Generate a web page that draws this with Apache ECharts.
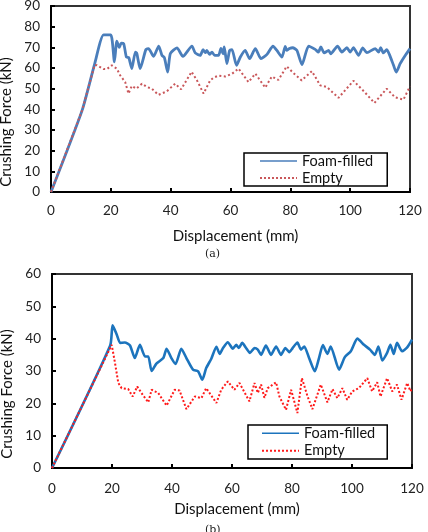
<!DOCTYPE html>
<html>
<head>
<meta charset="utf-8">
<script src="https://cdn.jsdelivr.net/npm/echarts@6/dist/echarts.min.js"></script>
<style>
html,body{margin:0;padding:0;background:#fff;}
#chart{width:428px;height:532px;}
</style>
</head>
<body>
<div id="chart"></div>
<script>
// ---------- Data ----------
const xTicks = [0, 20, 40, 60, 80, 100, 120];
const seriesNames = ['Foam-filled', 'Empty'];
const captions = ['(a)', '(b)'];

// (a) Foam-filled
const dispA_foam = [0, 10.4, 14.6, 17.6, 20.0, 21.2, 22, 22.8, 23.5, 24.3, 25.2, 26, 27, 28.2, 28.7, 29.8, 31.7, 32.6, 34.3, 36, 37.1, 37.9, 39, 39.9, 42.1, 44.1, 47.1, 48.2, 49.9, 50.8, 51.6, 52.1, 53, 53.8, 54.7, 56, 56.8, 57.5, 57.9, 58.8, 59.7, 60.5, 62, 63.3, 64.9, 66.4, 68.3, 70.2, 72.2, 74.2, 75.5, 77.2, 78.3, 78.8, 79.7, 80.8, 82.2, 83.9, 86.1, 88.3, 89.4, 90.2, 91.3, 92.8, 93.5, 95.8, 97.2, 98.9, 100, 101.1, 102.8, 104.2, 105.6, 108.4, 109.5, 110.2, 111.1, 112.2, 113.1, 114.5, 115.4, 116.7, 118.4, 120];
const forceA_foam = [0, 39.5, 62, 76, 76, 63, 73, 70, 72, 71.8, 65.3, 65, 59.7, 67.7, 67, 59.7, 68.9, 69.4, 65.6, 70.6, 66.1, 65, 58, 67, 69.7, 65.6, 70.6, 67.3, 66.1, 68.9, 67.4, 68.5, 66.6, 67.7, 66.1, 66.1, 69.5, 66.9, 70.2, 62.1, 68.5, 68.9, 61.3, 65.3, 68.5, 64.5, 69.4, 64.5, 66.6, 70.6, 68.5, 65.3, 70.5, 68.5, 69.4, 69.8, 68.5, 61.6, 70.6, 69, 67.7, 70.2, 67.3, 68.5, 66.9, 70.6, 67.7, 69.8, 67.7, 69.8, 66.1, 69.7, 67.4, 69.4, 67.7, 69.8, 67.3, 68.9, 66.6, 61.3, 58, 62.1, 66.1, 69.4];

// (a) Empty
const dispA_empty = [0, 10.4, 14.6, 15.4, 17.6, 18.7, 20.3, 22, 23.1, 24.8, 25.9, 27, 28.5, 30.4, 32.1, 33.7, 35.9, 38.7, 41.5, 43.5, 47, 48.8, 51, 53.2, 54.3, 56, 58.2, 60.5, 62.7, 66, 68.3, 71.6, 73.8, 76, 78.8, 81, 83.8, 87.2, 90, 92.2, 96.1, 101.1, 104.6, 108.1, 112.2, 115, 117.8, 120];
const forceA_empty = [0, 39.5, 61.5, 61.3, 59.5, 59.5, 61.3, 59.7, 56.5, 53.2, 47.6, 51.3, 50, 52.4, 50.8, 50, 47, 48.7, 52.4, 49.7, 58.2, 54, 47.6, 54, 55.3, 56.3, 55.9, 57.2, 59.7, 53.2, 57.3, 50.5, 55.9, 54.2, 60.8, 57.6, 54, 58.5, 51.6, 50.8, 45.6, 53.8, 48.7, 43.1, 50, 45.8, 44.7, 51.1];

// (b) Foam-filled
const dispB_foam = [0, 19.4, 20.2, 21.6, 22.7, 24.3, 26, 27.6, 29.3, 31, 32.1, 33.2, 34.8, 37.1, 38.2, 39.8, 41.2, 43.1, 44.8, 47, 48.7, 50.1, 51.4, 53.1, 54.8, 55.9, 57, 58.6, 60.3, 61.4, 62.3, 63.4, 64.7, 66, 67.5, 68.6, 69.7, 71.3, 73, 74.7, 76.3, 77.8, 79.1, 80.2, 81.8, 83, 84.1, 85.7, 87.6, 89, 90.3, 91.8, 92.9, 95.7, 97.6, 99.6, 101.8, 104, 106, 107.6, 108.8, 110.1, 111.7, 112.8, 113.9, 115, 116.7, 118.4, 120];
const forceB_foam = [0, 37.9, 44.1, 41.2, 38.7, 38.8, 37.9, 34.0, 38.1, 34.5, 34.5, 30.0, 32.3, 34, 36.9, 34, 32.2, 36.9, 34, 30.4, 29.9, 27.3, 30.9, 33.8, 37.5, 35.3, 37.1, 38.9, 36.9, 38.1, 37.1, 38.7, 37.1, 35.6, 37.1, 36.6, 35, 37.9, 35, 37.6, 35, 37.1, 35.8, 37.1, 38.8, 36.6, 37.6, 34, 29.9, 34, 38, 35.3, 37.6, 30.4, 34.3, 36.1, 40, 38.1, 36.6, 35, 37.6, 33.3, 35.6, 38.1, 35.3, 38.7, 36.1, 37.3, 39.7];

// (b) Empty
const dispB_empty = [0, 19.9, 21, 22.1, 23.2, 25.4, 26.9, 28.4, 30.2, 32.1, 33.2, 35.4, 38.2, 40.9, 42.5, 44.8, 47.6, 49.8, 51.4, 54.8, 56.4, 58.6, 60.8, 62.5, 65.8, 67.5, 68.6, 69.7, 70.8, 71.9, 74.7, 75.8, 78, 79.7, 81.8, 83.3, 85.2, 86.8, 89.6, 91.8, 93.5, 95.1, 96.8, 98.4, 100.1, 102.3, 105.1, 106.7, 108.4, 109.5, 111.7, 113.4, 115, 116.5, 118.4, 119.5, 120];
const forceB_empty = [0, 38.1, 32.5, 26.3, 24.7, 24.4, 22.1, 25.2, 22.7, 20.3, 24.2, 23.2, 19.3, 24.2, 24, 18.2, 22.1, 21.6, 24.7, 20.1, 24.2, 26.8, 24.2, 26.3, 20.6, 26.3, 23.2, 25.8, 21.7, 24.7, 26.5, 22.1, 18, 24.2, 17, 27.8, 22.1, 18.2, 25.8, 20.3, 24.4, 21.6, 24.7, 21.1, 23.7, 24.7, 27.8, 23.7, 26.5, 22.1, 27.8, 23.7, 25.8, 21.1, 26.3, 23.7, 24.5];

// ---------- Build ----------
const zip = (xs, ys) => xs.map((x, i) => [x, ys[i]]);
const FONT = 'Lato';
const colA_blue = '#4a7ebb', colA_red = '#c9575a';
const colB_blue = '#1c74bd', colB_red = '#ff1a1a';

function xAxisCfg(gridIndex, labelMargin, nameGap) {
  return {
    type: 'value', gridIndex, min: 0, max: 120, interval: 20,
    name: 'Displacement (mm)', nameLocation: 'middle', nameGap,
    nameTextStyle: { fontFamily: FONT, fontSize: 15, color: '#111', padding: [0, 0, 0, 10] },
    axisLine: { show: true, onZero: false, lineStyle: { color: '#000', width: 2 } },
    axisTick: { show: true, inside: true, length: 4, lineStyle: { color: '#000', width: 2 } },
    axisLabel: { fontFamily: FONT, fontSize: 13.5, color: '#222', margin: labelMargin,
      formatter: v => xTicks.includes(v) ? String(v) : '' },
    splitLine: { show: false }
  };
}
function yAxisCfg(gridIndex, max) {
  return {
    type: 'value', gridIndex, min: 0, max, interval: 10,
    name: 'Crushing Force (kN)', nameLocation: 'middle', nameGap: 33, nameRotate: 90,
    nameTextStyle: { fontFamily: FONT, fontSize: 15, color: '#111', padding: [0, 46, 0, 0] },
    axisLine: { show: true, onZero: false, lineStyle: { color: '#000', width: 2 } },
    axisTick: { show: true, inside: true, length: 4, lineStyle: { color: '#000', width: 2 } },
    axisLabel: { fontFamily: FONT, fontSize: 13.5, color: '#222', margin: 11 },
    splitLine: { show: false }
  };
}
function legendCfg(left, top, padding, lineHeight, blue, red) {
  return {
    left, top, orient: 'vertical', padding,
    itemWidth: 37, itemHeight: 10, itemGap: 1,
    backgroundColor: '#fff', borderColor: '#000', borderWidth: 1.5,
    textStyle: { fontFamily: FONT, fontSize: 14.5, color: '#111', lineHeight },
    selectedMode: false,
    data: [
      { name: seriesNames[0], icon: 'path://M0,4.2 L37,4.2 L37,5.8 L0,5.8 Z', itemStyle: { color: blue } },
      { name: seriesNames[1], icon: 'path://M0,4 L2,4 L2,6 L0,6 Z M4,4 L6,4 L6,6 L4,6 Z M8,4 L10,4 L10,6 L8,6 Z M12,4 L14,4 L14,6 L12,6 Z M16,4 L18,4 L18,6 L16,6 Z M20,4 L22,4 L22,6 L20,6 Z M24,4 L26,4 L26,6 L24,6 Z M28,4 L30,4 L30,6 L28,6 Z M32,4 L34,4 L34,6 L32,6 Z M36,4 L37,4 L37,6 L36,6 Z', itemStyle: { color: red } }
    ]
  };
}

const option = {
  backgroundColor: '#fff',
  animation: false,
  grid: [
    { left: 51, right: 18, top: 6, height: 186, show: true, borderColor: '#333', borderWidth: 2, outerBoundsMode: 'none', containLabel: false },
    { left: 52, right: 16, top: 274, height: 194, show: true, borderColor: '#333', borderWidth: 2, outerBoundsMode: 'none', containLabel: false }
  ],
  xAxis: [xAxisCfg(0, 12, 37), xAxisCfg(1, 14, 34)],
  yAxis: [yAxisCfg(0, 90), yAxisCfg(1, 60)],
  legend: [
    legendCfg(244, 153, [0, 14, 0, 16], 16, colA_blue, colA_red),
    legendCfg(248, 425, [0, 12, 0, 14], 16.5, colB_blue, colB_red)
  ],
  series: [
    { name: seriesNames[0], type: 'line', xAxisIndex: 0, yAxisIndex: 0, symbol: 'none', smooth: 0.2,
      data: zip(dispA_foam, forceA_foam), lineStyle: { color: colA_blue, width: 2.8 }, itemStyle: { color: colA_blue } },
    { name: seriesNames[1], type: 'line', xAxisIndex: 0, yAxisIndex: 0, symbol: 'none',
      data: zip(dispA_empty, forceA_empty), lineStyle: { color: colA_red, width: 2, type: [2, 2.5] }, itemStyle: { color: colA_red } },
    { name: seriesNames[0], type: 'line', xAxisIndex: 1, yAxisIndex: 1, symbol: 'none', smooth: 0.2,
      data: zip(dispB_foam, forceB_foam), lineStyle: { color: colB_blue, width: 2.6 }, itemStyle: { color: colB_blue } },
    { name: seriesNames[1], type: 'line', xAxisIndex: 1, yAxisIndex: 1, symbol: 'none',
      data: zip(dispB_empty, forceB_empty), lineStyle: { color: colB_red, width: 2, type: [2, 2] }, itemStyle: { color: colB_red } }
  ],
  graphic: [
    { type: 'text', left: 205, top: 249, style: { text: captions[0], fontFamily: 'DejaVu Serif', fontSize: 11, fill: '#222' } },
    { type: 'text', left: 205, top: 525, style: { text: captions[1], fontFamily: 'DejaVu Serif', fontSize: 11, fill: '#222' } }
  ]
};

const chart = echarts.init(document.getElementById('chart'), null, { renderer: 'canvas' });
chart.setOption(option);
</script>
</body>
</html>
